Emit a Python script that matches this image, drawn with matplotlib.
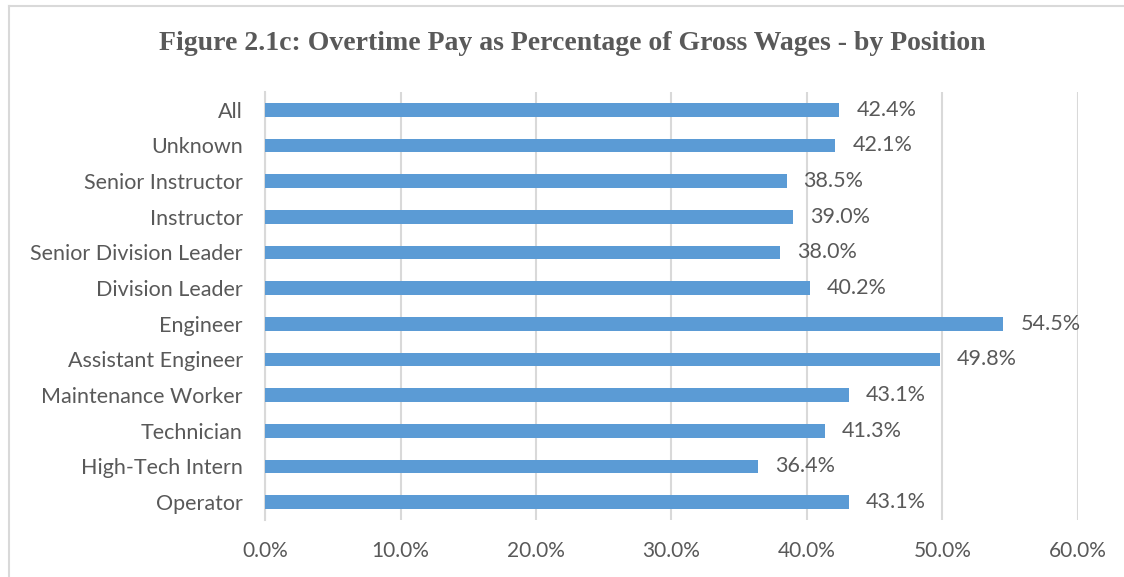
import numpy as np
import matplotlib
matplotlib.use("Agg")
import matplotlib.pyplot as plt
from matplotlib.lines import Line2D
from matplotlib.ticker import FuncFormatter

positions = ["All", "Unknown", "Senior Instructor", "Instructor",
             "Senior Division Leader", "Division Leader", "Engineer",
             "Assistant Engineer", "Maintenance Worker", "Technician",
             "High-Tech Intern", "Operator"]
overtime_pct = [42.4, 42.1, 38.5, 39.0, 38.0, 40.2, 54.5, 49.8, 43.1, 41.3, 36.4, 43.1]
x_ticks = [0, 10, 20, 30, 40, 50, 60]

text_color = "#595959"
bar_color = "#5B9BD5"
grid_color = "#D9D9D9"

plt.rcParams["font.family"] = ["Lato", "DejaVu Sans"]

fig = plt.figure(figsize=(11.24, 5.77), dpi=100)
ax = fig.add_axes([0.2358, 0.0988, 0.959 - 0.2358, 0.8406 - 0.0988])

y = np.arange(len(positions))
ax.barh(y, overtime_pct, height=0.38, color=bar_color, zorder=3)
for yi, v in zip(y, overtime_pct):
    ax.text(v + 1.25, yi, f"{v:.1f}%", va="center", ha="left",
            fontsize=15.5, color=text_color, zorder=4)

ax.set_ylim(len(positions) - 0.5, -0.5)
ax.set_xlim(0, 60)
ax.set_yticks(y)
ax.set_yticklabels(positions, fontsize=15.5, color=text_color)
ax.set_xticks(x_ticks)
ax.xaxis.set_major_formatter(FuncFormatter(lambda v, p: f"{v:.1f}%"))
ax.tick_params(axis="x", labelsize=15, labelcolor=text_color, length=0, pad=15)
ax.tick_params(axis="y", length=0, pad=16)
ax.grid(axis="x", color=grid_color, linewidth=1.5, zorder=0)
for s in ["top", "right", "bottom"]:
    ax.spines[s].set_visible(False)
ax.spines["left"].set_color(grid_color)
ax.spines["left"].set_linewidth(1.5)

fig.text(0.509, 0.925, "Figure 2.1c: Overtime Pay as Percentage of Gross Wages - by Position",
         ha="center", va="center", fontsize=20, fontweight="bold",
         family="Liberation Serif", color=text_color)

# outer chart border (left and top edges visible)
fig.add_artist(Line2D([9 / 1124, 9 / 1124], [0, 1 - 6 / 577], color=grid_color, linewidth=1.5))
fig.add_artist(Line2D([9 / 1124, 1], [1 - 6 / 577, 1 - 6 / 577], color=grid_color, linewidth=1.5))

fig.savefig("out.png", dpi=100)
